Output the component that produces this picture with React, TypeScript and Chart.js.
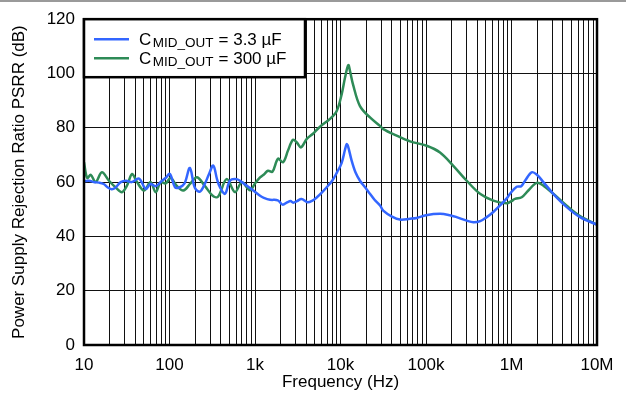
import React, { useEffect, useRef } from 'react';
import { Chart, registerables } from 'chart.js';
Chart.register(...registerables);

const FONT = "'Liberation Sans', Arial, Helvetica, sans-serif";

// Series: C_MID_OUT = 3.3 µF (blue)
const freq33 = [10, 11.5, 13, 15, 17, 19, 21, 23, 26.9, 31, 36, 44, 52.7, 60, 69, 81.6, 90, 101, 116, 130, 150, 173, 198, 227, 260, 290, 325, 360, 389, 446, 511, 612, 700, 800, 958, 1146, 1270, 1500, 1850, 2100, 2400, 2600, 2800, 3100, 3500, 4100, 4700, 5300, 6000, 6900, 8000, 9100, 10300, 11300, 11800, 12300, 13500, 15000, 16900, 19500, 22100, 25000, 29000, 31600, 40000, 49600, 65000, 78000, 100000, 146000, 190000, 228000, 300000, 357000, 430000, 513000, 613000, 733000, 880000, 960000, 1150000, 1300000, 1440000, 1720000, 1970000, 2360000, 3080000, 4430000, 6330000, 10000000];
const psrr33 = [60.3, 60.5, 60.0, 59.8, 59.3, 58.0, 57.4, 57.8, 60.0, 60.5, 60.0, 61.3, 57.5, 59.3, 58.5, 60.5, 61.5, 63.0, 58.1, 58.0, 59.5, 65.2, 57.9, 56.5, 59.5, 63.0, 66.1, 61.0, 58.1, 55.7, 60.6, 61.1, 60.0, 58.7, 56.9, 55.0, 54.2, 53.5, 53.3, 51.7, 52.6, 53.0, 52.4, 53.0, 53.8, 52.6, 53.2, 54.4, 56.0, 58.1, 60.5, 63.6, 67.0, 72.0, 74.0, 73.0, 67.9, 63.5, 60.5, 58.0, 55.7, 53.5, 51.4, 49.5, 47.3, 46.2, 46.5, 46.8, 47.8, 48.3, 47.8, 47.1, 45.8, 45.2, 45.6, 47.1, 49.0, 51.4, 54.0, 55.7, 58.3, 58.5, 60.5, 63.6, 62.8, 60.0, 55.7, 50.8, 47.1, 44.3];

// Series: C_MID_OUT = 300 µF (green)
const freq300 = [10, 10.9, 12, 13.7, 16.2, 19.6, 23.5, 27.8, 31.8, 36.5, 41.7, 50.3, 60, 68.9, 79, 90, 103, 121, 145, 176, 210, 260, 320, 369, 466, 583, 701, 874, 1000, 1146, 1272, 1419, 1600, 1858, 2126, 2432, 2782, 3100, 3451, 4055, 4766, 5757, 7540, 9031, 10330, 11300, 12340, 13000, 14000, 16900, 22130, 28970, 31620, 45400, 65000, 101900, 145900, 208600, 299300, 428300, 612700, 878500, 1000000, 1099000, 1316000, 1573000, 1972000, 2357000, 3084000, 4426000, 6330000, 10000000];
const psrr300 = [67.3, 61.5, 62.7, 60.0, 63.6, 60.5, 58.0, 56.3, 58.7, 63.0, 60.0, 56.9, 60.0, 56.3, 60.0, 59.5, 61.5, 58.7, 56.9, 59.5, 61.8, 58.5, 55.0, 54.6, 61.1, 56.3, 59.9, 57.0, 59.5, 61.7, 62.8, 64.2, 63.8, 68.6, 67.3, 71.6, 75.6, 74.5, 72.8, 76.0, 77.8, 80.4, 83.3, 86.2, 92.4, 98.5, 103.1, 100.5, 96.0, 88.0, 83.8, 80.7, 79.5, 77.1, 75.0, 73.4, 70.9, 66.0, 60.5, 55.7, 53.2, 52.2, 53.0, 53.8, 54.4, 56.9, 59.7, 58.7, 55.7, 51.3, 47.5, 44.3];

const seriesValues = ['3.3 µF', '300 µF'];
const seriesColors = ['#3366ff', '#2e8b57'];
const xDecades = [10, 100, 1e3, 1e4, 1e5, 1e6, 1e7];
const xTickLabels = ['10', '100', '1k', '10k', '100k', '1M', '10M'];
const yMin = 0;
const yMax = 120;
const yStep = 20;

const framePlugin = {
  id: 'frame',
  beforeDraw(chart: any) {
    const { ctx, width } = chart;
    ctx.save();
    ctx.strokeStyle = '#9a9a9a';
    ctx.lineWidth = 2;
    ctx.beginPath();
    ctx.moveTo(0, 1);
    ctx.lineTo(width, 1);
    ctx.stroke();
    ctx.restore();
  },
  afterDatasetsDraw(chart: any) {
    const { ctx, chartArea: a } = chart;
    ctx.save();
    ctx.strokeStyle = '#000';
    ctx.lineWidth = 2.5;
    ctx.strokeRect(a.left, a.top, a.right - a.left, a.bottom - a.top);
    ctx.restore();
  },
  afterDraw(chart: any) {
    const { ctx, chartArea: a } = chart;
    const x0 = a.left;
    const y0 = a.top;
    const w = 221;
    const h = 58;
    ctx.save();
    ctx.fillStyle = '#fff';
    ctx.fillRect(x0, y0, w, h);
    ctx.strokeStyle = '#000';
    ctx.lineWidth = 2.5;
    ctx.strokeRect(x0, y0, w, h);
    seriesValues.forEach((val, i) => {
      const cy = y0 + 20 + i * 19;
      ctx.strokeStyle = seriesColors[i];
      ctx.lineWidth = 2.5;
      ctx.beginPath();
      ctx.moveTo(x0 + 10, cy);
      ctx.lineTo(x0 + 45, cy);
      ctx.stroke();
      let tx = x0 + 55;
      const base = cy + 6;
      ctx.fillStyle = '#000';
      ctx.textBaseline = 'alphabetic';
      ctx.textAlign = 'left';
      ctx.font = `17px ${FONT}`;
      ctx.fillText('C', tx, base);
      tx += ctx.measureText('C').width + 1.5;
      ctx.font = `13.5px ${FONT}`;
      ctx.fillText('MID_OUT', tx, base + 1.5);
      tx += ctx.measureText('MID_OUT').width + 5;
      ctx.font = `17px ${FONT}`;
      ctx.fillText('= ' + val, tx, base);
    });
    ctx.restore();
  },
};

export default function App() {
  const ref = useRef<HTMLCanvasElement>(null);
  useEffect(() => {
    if (!ref.current) return;
    const chart = new Chart(ref.current, {
      type: 'scatter',
      data: {
        datasets: [
          {
            label: 'C_MID_OUT = 3.3 µF',
            data: freq33.map((f, i) => ({ x: f, y: psrr33[i] })),
            borderColor: seriesColors[0],
            backgroundColor: seriesColors[0],
            borderWidth: 2.5,
            showLine: true,
            pointRadius: 0,
            tension: 0.35,
          },
          {
            label: 'C_MID_OUT = 300 µF',
            data: freq300.map((f, i) => ({ x: f, y: psrr300[i] })),
            borderColor: seriesColors[1],
            backgroundColor: seriesColors[1],
            borderWidth: 2.5,
            showLine: true,
            pointRadius: 0,
            tension: 0.35,
          },
        ],
      },
      options: {
        animation: false,
        responsive: true,
        maintainAspectRatio: false,
        layout: { padding: { left: 0, top: 18, right: 29, bottom: 0 } },
        plugins: { legend: { display: false }, tooltip: { enabled: false } },
        scales: {
          x: {
            type: 'logarithmic',
            min: 10,
            max: 1e7,
            afterBuildTicks: (scale: any) => {
              const t: any[] = [];
              for (let d = 10; d < 1e7; d *= 10) {
                for (let m = 1; m < 10; m++) t.push({ value: d * m });
              }
              t.push({ value: 1e7 });
              scale.ticks = t;
            },
            afterFit: (scale: any) => {
              scale.height = 48;
            },
            border: { display: false },
            grid: { color: '#111', lineWidth: 1, drawTicks: false },
            ticks: {
              autoSkip: false,
              maxRotation: 0,
              minRotation: 0,
              padding: 10,
              color: '#000',
              font: { family: FONT, size: 17 },
              callback: (v: any) => {
                const i = xDecades.indexOf(Number(v));
                return i >= 0 ? xTickLabels[i] : '';
              },
            },
            title: {
              display: true,
              text: 'Frequency (Hz)',
              color: '#000',
              font: { family: FONT, size: 17 },
              padding: { top: 0, bottom: 0 },
            },
          },
          y: {
            type: 'linear',
            min: yMin,
            max: yMax,
            afterFit: (scale: any) => {
              scale.width = 84;
            },
            border: { display: false },
            grid: { color: '#111', lineWidth: 1, drawTicks: false },
            ticks: {
              stepSize: yStep,
              padding: 9,
              color: '#000',
              font: { family: FONT, size: 17 },
            },
            title: {
              display: true,
              text: 'Power Supply Rejection Ratio PSRR (dB)',
              color: '#000',
              font: { family: FONT, size: 17 },
              padding: { top: 9, bottom: 0 },
            },
          },
        },
      } as any,
      plugins: [framePlugin],
    });
    return () => chart.destroy();
  }, []);
  return (
    <div style={{ position: 'fixed', left: 0, top: 0, width: 626, height: 393, background: '#fff' }}>
      <canvas ref={ref} />
    </div>
  );
}
